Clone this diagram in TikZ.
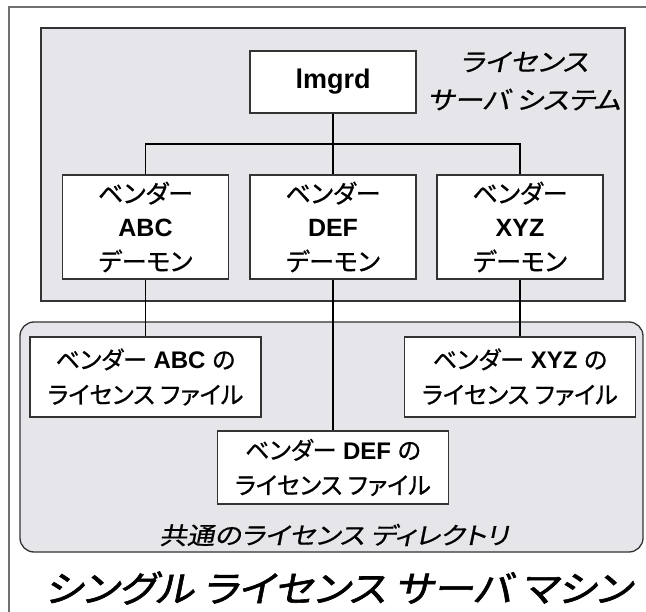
\documentclass[tikz,border=0pt]{standalone}
\usepackage{fontspec}
\setmainfont{Liberation Sans}
\newfontfamily\jp{Noto Sans CJK JP}[RawFeature=+palt,FakeBold=0.8]
\newfontfamily\jpit{Noto Sans CJK JP}[RawFeature=+palt,FakeSlant=0.2,FakeStretch=1.15,FakeBold=0.6]
\newfontfamily\jptitle{Noto Sans CJK JP}[RawFeature=+palt,FakeSlant=0.2,FakeStretch=1.12,FakeBold=1.6]
\definecolor{boxgray}{HTML}{E6E6EA}
\definecolor{framegray}{HTML}{707070}
\definecolor{edgegray}{HTML}{333333}
\tikzset{
  container/.style={draw=edgegray,fill=boxgray,line width=1.3pt,inner sep=0pt},
  whitebox/.style={draw=edgegray,fill=white,line width=1.4pt,inner sep=0pt,align=center,text=black},
  daemonbox/.style={whitebox,minimum width=166pt,minimum height=104pt,font=\fontsize{25}{34}\selectfont},
  filebox/.style={whitebox,minimum width=231pt,minimum height=80pt,font=\fontsize{24}{35}\selectfont},
  wire/.style={line width=1.6pt,black},
  itlabel/.style={align=center,text=black,inner sep=0pt}
}
\begin{document}
\begin{tikzpicture}[x=1pt,y=-1pt]
\useasboundingbox (0,0) rectangle (646,612);
\fill[white] (0,0) rectangle (646,612);
% outer frame (partly outside the picture)
\draw[framegray,line width=2pt] (8.5,612) -- (8.5,7.5) -- (646,7.5);
% containers
\node[container,minimum width=584pt,minimum height=273pt] (sys) at (333,164.5) {};
\node[container,rounded corners=14pt,minimum width=623pt,minimum height=230pt] (dir) at (331.5,437) {};
% labels
\node[itlabel,font=\fontsize{25}{38}\selectfont\jpit] (syslabel) at (524,81) {ライセンス\\サーバ システム};
\node[itlabel,font=\fontsize{24}{28}\selectfont\jpit] (dirlabel) at (334,535) {共通のライセンス ディレクトリ};
\node[itlabel,font=\fontsize{36.5}{40}\selectfont\jptitle] (title) at (338,588) {シングル ライセンス サーバ マシン};
% boxes
\node[whitebox,minimum width=166pt,minimum height=62pt,font=\fontsize{27}{30}\selectfont\bfseries] (lmgrd) at (333,82) {lmgrd};
\node[daemonbox] (abc) at (145.5,227) {{\jp ベンダー}\\\textbf{ABC}\\{\jp デーモン}};
\node[daemonbox] (def) at (333,227) {{\jp ベンダー}\\\textbf{DEF}\\{\jp デーモン}};
\node[daemonbox] (xyz) at (520,227) {{\jp ベンダー}\\\textbf{XYZ}\\{\jp デーモン}};
\node[filebox] (fabc) at (145.5,377) {{\jp ベンダー} \textbf{ABC} {\jp の}\\{\jp ライセンス ファイル}};
\node[filebox] (fxyz) at (520,377) {{\jp ベンダー} \textbf{XYZ} {\jp の}\\{\jp ライセンス ファイル}};
\node[filebox,minimum height=73pt] (fdef) at (333,467.5) {{\jp ベンダー} \textbf{DEF} {\jp の}\\{\jp ライセンス ファイル}};
% connectors
\coordinate (j) at (333,144);
\draw[wire] (lmgrd.south) -- (def.north);
\draw[wire] (abc.north) |- (j) -| (xyz.north);
\draw[wire] (abc.south) -- (fabc.north);
\draw[wire] (def.south) -- (fdef.north);
\draw[wire] (xyz.south) -- (fxyz.north);
\end{tikzpicture}
\end{document}
